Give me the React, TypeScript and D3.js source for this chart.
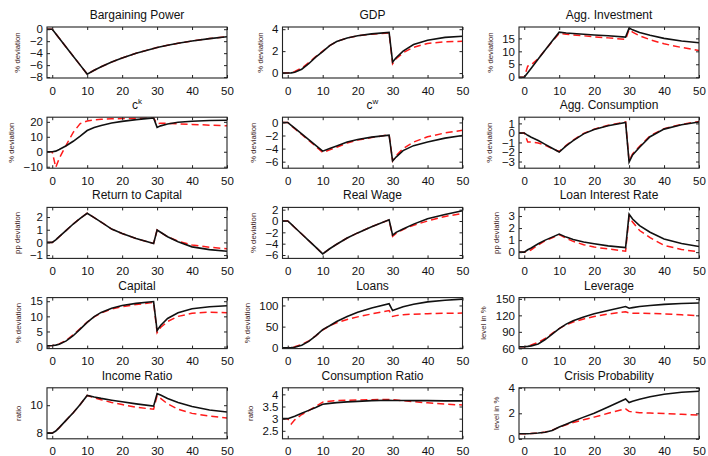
import React, { useEffect, useRef } from "react";
import * as d3 from "d3";

// quarters after the shock (first point = pre-shock steady state)
const periods = [-1.5, 0, 1, 2, 4, 6, 8, 10, 12, 14, 17, 20, 24, 29, 30, 31, 33, 36, 40, 45, 50];
const xTicks = [0, 10, 20, 30, 40, 50];

// solid black = baseline, dashed red = alternative
const bargainingBase = [0, 0, -0.75, -1.5, -3.0, -4.5, -6.0, -7.5, -6.86, -6.27, -5.49, -4.8, -4.01, -3.21, -3.07, -2.94, -2.69, -2.35, -1.97, -1.57, -1.26];
const bargainingAlt = [0, 0, -0.75, -1.5, -3.0, -4.5, -6.0, -7.5, -6.86, -6.27, -5.49, -4.8, -4.01, -3.21, -3.07, -2.94, -2.69, -2.35, -1.97, -1.57, -1.26];
const gdpBase = [0, 0, 0.02, 0.08, 0.35, 0.85, 1.45, 1.95, 2.5, 2.88, 3.2, 3.4, 3.57, 3.7, 1.0, 1.4, 2.0, 2.6, 3.0, 3.25, 3.35];
const gdpAlt = [0, 0, 0.05, 0.15, 0.45, 0.95, 1.5, 2.0, 2.5, 2.88, 3.2, 3.4, 3.55, 3.65, 0.85, 1.3, 1.85, 2.35, 2.7, 2.85, 2.9];
const investBase = [0, 0, 1.75, 3.5, 7.0, 10.5, 14.0, 17.4, 17.1, 16.9, 16.6, 16.3, 16.0, 15.5, 19.0, 18.3, 17.3, 16.2, 15.0, 14.0, 13.3];
const investAlt = [0, 0, 4.3, 4.8, 7.2, 10.5, 13.8, 16.9, 16.6, 16.3, 16.0, 15.6, 15.2, 14.6, 18.4, 17.4, 16.0, 14.5, 12.9, 11.5, 10.3];
const ckBase = [0, 0, 0.4, 1.5, 4.0, 7.0, 10.5, 14.2, 16.2, 17.6, 19.2, 20.3, 21.5, 22.6, 16.3, 17.3, 18.6, 19.7, 20.4, 20.9, 21.1];
const ckAlt = [0, 0, -10.5, -4.5, 4.5, 13, 18.8, 20.6, 21.3, 21.7, 22.0, 22.2, 22.4, 22.6, 18.8, 19.0, 19.0, 18.7, 18.3, 17.8, 17.3];
const cwBase = [0, 0, -0.44, -0.88, -1.76, -2.64, -3.52, -4.4, -4.0, -3.6, -3.0, -2.6, -2.25, -1.95, -5.9, -5.3, -4.3, -3.55, -3.0, -2.4, -2.0];
const cwAlt = [0, 0, -0.5, -0.95, -1.85, -2.75, -3.65, -4.6, -4.2, -3.8, -3.15, -2.7, -2.3, -1.9, -5.9, -5.1, -4.0, -3.0, -2.2, -1.6, -1.2];
const aggConsBase = [0, 0, -0.25, -0.45, -0.8, -1.2, -1.6, -2.0, -1.35, -0.8, -0.1, 0.35, 0.75, 1.1, -3.05, -2.3, -1.5, -0.4, 0.4, 0.85, 1.15];
const aggConsAlt = [0, 0, -0.95, -0.95, -1.05, -1.3, -1.65, -1.95, -1.3, -0.75, -0.05, 0.4, 0.8, 1.15, -2.95, -2.2, -1.4, -0.3, 0.45, 0.9, 1.2];
const rkBase = [0, 0, 0.2, 0.45, 0.95, 1.45, 1.9, 2.3, 1.95, 1.6, 1.05, 0.7, 0.3, -0.08, 0.98, 0.8, 0.45, 0.05, -0.35, -0.57, -0.7];
const rkAlt = [0, 0, 0.2, 0.45, 0.95, 1.45, 1.9, 2.3, 1.95, 1.6, 1.05, 0.7, 0.3, -0.08, 0.98, 0.8, 0.45, 0.1, -0.2, -0.38, -0.5];
const wageBase = [0, 0, -0.55, -1.15, -2.3, -3.45, -4.6, -5.8, -4.9, -4.1, -3.0, -2.1, -1.0, 0.2, -2.5, -2.0, -1.4, -0.55, 0.4, 1.15, 1.8];
const wageAlt = [0, 0, -0.55, -1.15, -2.3, -3.45, -4.6, -5.8, -4.9, -4.1, -3.0, -2.1, -1.0, 0.2, -2.7, -2.2, -1.5, -0.75, 0.0, 0.8, 1.35];
const loanRateBase = [0, 0, 0.2, 0.35, 0.7, 1.0, 1.25, 1.5, 1.25, 1.05, 0.85, 0.7, 0.52, 0.38, 3.15, 2.75, 2.2, 1.65, 1.1, 0.72, 0.47];
const loanRateAlt = [0, 0, 0.05, 0.2, 0.6, 0.95, 1.2, 1.45, 1.15, 0.9, 0.62, 0.42, 0.27, 0.08, 3.0, 2.5, 1.8, 1.2, 0.56, 0.22, 0.02];
const capitalBase = [0.3, 0.35, 0.5, 0.8, 1.9, 3.6, 5.8, 8.0, 9.9, 11.3, 12.7, 13.6, 14.3, 14.9, 5.3, 7.0, 9.3, 11.2, 12.5, 13.2, 13.5];
const capitalAlt = [0.3, 0.35, 0.5, 0.9, 2.1, 3.9, 6.0, 8.1, 9.8, 11.1, 12.4, 13.2, 13.9, 14.6, 4.6, 6.3, 8.3, 10.0, 11.0, 11.4, 11.2];
const loansBase = [0, 0, 0.3, 1.2, 6, 15, 28, 43, 52, 62, 74, 84, 94, 104, 88, 91, 97, 103, 108.5, 112.5, 115];
const loansAlt = [0, 0, 1, 2.5, 8, 16, 28, 42, 52, 59, 67, 73, 80, 88, 74, 76, 78, 79.5, 80.5, 81.5, 82];
const leverageBase = [63, 63, 63.5, 64.5, 68, 76, 86, 96, 104, 110, 117, 123, 129, 136, 133, 134, 136, 138, 140, 141.5, 142.5];
const leverageAlt = [63, 63, 64, 66, 71, 78, 87, 96, 103, 108, 113.5, 118, 122.5, 126.5, 124.5, 124, 124, 123.5, 122.5, 121, 119.5];
const incomeBase = [7.95, 7.95, 8.1, 8.35, 8.9, 9.45, 10.05, 10.72, 10.6, 10.5, 10.37, 10.25, 10.1, 9.93, 10.85, 10.75, 10.5, 10.2, 9.9, 9.65, 9.5];
const incomeAlt = [7.95, 7.95, 8.1, 8.35, 8.9, 9.45, 10.05, 10.72, 10.55, 10.4, 10.2, 10.05, 9.85, 9.7, 10.7, 10.5, 10.1, 9.7, 9.4, 9.2, 9.05];
const consRatioBase = [3.0, 3.0, 3.05, 3.1, 3.22, 3.34, 3.46, 3.59, 3.63, 3.66, 3.69, 3.71, 3.74, 3.76, 3.75, 3.75, 3.75, 3.74, 3.74, 3.73, 3.73];
const consRatioAlt = [3.0, 3.0, 2.78, 2.95, 3.17, 3.33, 3.5, 3.68, 3.72, 3.74, 3.76, 3.77, 3.78, 3.79, 3.78, 3.77, 3.74, 3.7, 3.65, 3.6, 3.56];
const crisisBase = [0.4, 0.4, 0.4, 0.41, 0.45, 0.52, 0.65, 0.92, 1.15, 1.38, 1.7, 2.0, 2.5, 3.12, 2.85, 2.95, 3.1, 3.3, 3.5, 3.65, 3.73];
const crisisAlt = [0.4, 0.4, 0.4, 0.41, 0.45, 0.53, 0.67, 0.92, 1.1, 1.28, 1.5, 1.7, 2.0, 2.35, 2.15, 2.1, 2.05, 2.02, 1.98, 1.92, 1.86];

const panels = [
  { title: "Bargaining Power", ylabel: "% deviation", base: bargainingBase, alt: bargainingAlt, yDomain: [-8.15, 0.37], yTicks: [-8, -6, -4, -2, 0] },
  { title: "GDP", ylabel: "% deviation", base: gdpBase, alt: gdpAlt, yDomain: [-0.45, 4.2], yTicks: [0, 2, 4] },
  { title: "Agg. Investment", ylabel: "% deviation", base: investBase, alt: investAlt, yDomain: [-0.3, 19.4], yTicks: [0, 5, 10, 15] },
  { title: "c", sup: "k", ylabel: "% deviation", base: ckBase, alt: ckAlt, yDomain: [-11, 23.1], yTicks: [-10, 0, 10, 20] },
  { title: "c", sup: "w", ylabel: "% deviation", base: cwBase, alt: cwAlt, yDomain: [-7, 0.8], yTicks: [-6, -4, -2, 0] },
  { title: "Agg. Consumption", ylabel: "% deviation", base: aggConsBase, alt: aggConsAlt, yDomain: [-3.7, 1.65], yTicks: [-3, -2, -1, 0, 1] },
  { title: "Return to Capital", ylabel: "pp deviation", base: rkBase, alt: rkAlt, yDomain: [-1.26, 2.76], yTicks: [-1, 0, 1, 2] },
  { title: "Real Wage", ylabel: "% deviation", base: wageBase, alt: wageAlt, yDomain: [-6.6, 2.4], yTicks: [-6, -4, -2, 0, 2] },
  { title: "Loan Interest Rate", ylabel: "pp deviation", base: loanRateBase, alt: loanRateAlt, yDomain: [-0.52, 3.72], yTicks: [0, 1, 2, 3] },
  { title: "Capital", ylabel: "% deviation", base: capitalBase, alt: capitalAlt, yDomain: [-0.66, 16.2], yTicks: [0, 5, 10, 15] },
  { title: "Loans", ylabel: "% deviation", base: loansBase, alt: loansAlt, yDomain: [-2, 118.6], yTicks: [0, 50, 100] },
  { title: "Leverage", ylabel: "level in %", base: leverageBase, alt: leverageAlt, yDomain: [59.5, 152.3], yTicks: [60, 90, 120, 150] },
  { title: "Income Ratio", ylabel: "ratio", base: incomeBase, alt: incomeAlt, yDomain: [7.53, 11.28], yTicks: [8, 10] },
  { title: "Consumption Ratio", ylabel: "ratio", base: consRatioBase, alt: consRatioAlt, yDomain: [2.17, 4.27], yTicks: [2.5, 3, 3.5, 4] },
  { title: "Crisis Probability", ylabel: "level in %", base: crisisBase, alt: crisisAlt, yDomain: [0, 4], yTicks: [0, 2, 4] },
];

const W = 708;
const H = 456;
const lefts = [47, 282.5, 519];
const plotW = 180;
const plotH = 51;
const top0 = 27;
const rowStep = 90.2;
const xDomain = [-1.5, 50];
const FONT = "'Liberation Sans', Arial, Helvetica, sans-serif";

export default function App() {
  const ref = useRef<SVGSVGElement>(null);

  useEffect(() => {
    const svg = d3.select(ref.current);
    svg.selectAll("*").remove();
    const fmt = d3.format("");

    panels.forEach((p, i) => {
      const col = i % 3;
      const row = Math.floor(i / 3);
      const x0 = lefts[col];
      const y0 = top0 + row * rowStep;
      const x = d3.scaleLinear().domain(xDomain).range([x0, x0 + plotW]);
      const y = d3.scaleLinear().domain(p.yDomain).range([y0 + plotH, y0]);
      const g = svg.append("g");

      g.append("clipPath").attr("id", `clip${i}`)
        .append("rect").attr("x", x0).attr("y", y0).attr("width", plotW).attr("height", plotH);

      const line = d3.line<number>().x((d, k) => x(periods[k])).y(d => y(d));

      g.append("path").datum(p.alt)
        .attr("d", line).attr("fill", "none").attr("stroke", "#ff1a1a")
        .attr("stroke-width", 1.5).attr("stroke-dasharray", "7,4")
        .attr("clip-path", `url(#clip${i})`);
      g.append("path").datum(p.base)
        .attr("d", line).attr("fill", "none").attr("stroke", "#111")
        .attr("stroke-width", 1.6)
        .attr("clip-path", `url(#clip${i})`);

      // axes with inward ticks on all four sides
      g.append("g").attr("transform", `translate(0,${y0 + plotH})`)
        .call(d3.axisBottom(x).tickValues(xTicks).tickSize(-3).tickPadding(8.5));
      g.append("g").attr("transform", `translate(0,${y0})`)
        .call(d3.axisTop(x).tickValues(xTicks).tickSize(-3).tickFormat(() => ""));
      const left = g.append("g").attr("transform", `translate(${x0},0)`)
        .call(d3.axisLeft(y).tickValues(p.yTicks).tickSize(-3).tickPadding(4).tickFormat(d => fmt(d as number).replace("-", "\u2212")));
      g.append("g").attr("transform", `translate(${x0 + plotW},0)`)
        .call(d3.axisRight(y).tickValues(p.yTicks).tickSize(-3).tickFormat(() => ""));

      g.selectAll(".domain").remove();
      g.selectAll(".tick line").attr("stroke", "#222");
      g.selectAll(".tick text").attr("font-family", FONT).attr("font-size", 11.5).attr("fill", "#111");

      g.append("rect").attr("x", x0).attr("y", y0).attr("width", plotW).attr("height", plotH)
        .attr("fill", "none").attr("stroke", "#222").attr("stroke-width", 1.1);

      const title = g.append("text")
        .attr("x", x0 + plotW / 2).attr("y", y0 - 8)
        .attr("text-anchor", "middle").attr("font-family", FONT).attr("font-size", 12).attr("fill", "#111");
      title.append("tspan").text(p.title);
      if (p.sup) title.append("tspan").attr("dy", -5).attr("font-size", 8).text(p.sup);

      // y label sits left of the widest tick label (bbox is in the axis group's own coords)
      const bb = (left.node() as SVGGElement).getBBox();
      const lx = x0 + bb.x - 12;
      g.append("text")
        .attr("transform", `translate(${lx},${y0 + plotH / 2}) rotate(-90)`)
        .attr("text-anchor", "middle").attr("dominant-baseline", "central")
        .attr("font-family", FONT).attr("font-size", 7.8).attr("fill", "#3a2020")
        .text(p.ylabel);
    });
  }, []);

  return (
    <svg ref={ref} width={W} height={H}
      style={{ position: "absolute", left: 0, top: 0, background: "#fff" }} />
  );
}
